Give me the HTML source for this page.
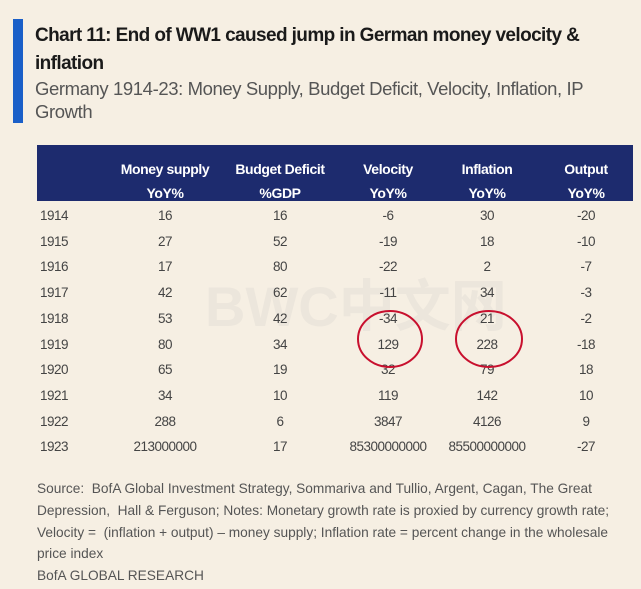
<!DOCTYPE html>
<html><head><meta charset="utf-8"><style>
body{margin:0;width:641px;height:589px;background:#f6efe3;position:relative;overflow:hidden;font-family:"Liberation Sans",sans-serif;}
.abs{position:absolute;}
#title{left:35px;top:22px;font-size:19px;font-weight:bold;color:#1a1a1a;line-height:28px;letter-spacing:-0.6px;white-space:nowrap}
#sub{left:35px;top:77px;font-size:18.5px;color:#555;line-height:23px;letter-spacing:-0.4px;white-space:nowrap}
#hdr{left:37px;top:145px;width:596px;height:56px;background:#1d2b6e;}
.h{position:absolute;color:#fff;font-weight:bold;font-size:14px;line-height:24px;text-align:center;width:130px;top:12px;letter-spacing:-0.4px}
.c{position:absolute;font-size:13.5px;color:#444;text-align:center;width:140px;letter-spacing:-0.5px}
.y{position:absolute;font-size:13.5px;color:#444;left:40px;letter-spacing:-0.5px}
#foot{left:37px;top:478px;font-size:13.7px;color:#555;line-height:21.8px;letter-spacing:0;white-space:nowrap}
</style></head><body>
<div class="abs" style="left:13px;top:19px;width:10px;height:104px;background:#1a5fc8"></div>
<div id="title" class="abs">Chart 11: End of WW1 caused jump in German money velocity &amp;<br>inflation</div>
<div id="sub" class="abs">Germany 1914-23: Money Supply, Budget Deficit, Velocity, Inflation, IP<br>Growth</div>
<div id="hdr" class="abs"></div>
<div class="abs" style="left:205px;top:262px;font-size:56px;font-weight:bold;color:rgba(180,180,180,0.15);font-family:'Liberation Sans','Noto Sans CJK SC',sans-serif">BWC中文网</div>
<div id="tbl" class="abs" style="left:0;top:0"></div>
<svg class="abs" style="left:0;top:0" width="641" height="589">
<ellipse cx="390" cy="339" rx="32" ry="28" fill="none" stroke="#c8102e" stroke-width="2"/>
<ellipse cx="489" cy="339" rx="33" ry="28" fill="none" stroke="#c8102e" stroke-width="2"/>
</svg>
<div id="foot" class="abs">Source:&nbsp; BofA Global Investment Strategy, Sommariva and Tullio, Argent, Cagan, The Great<br>Depression,&nbsp; Hall &amp; Ferguson; Notes: Monetary growth rate is proxied by currency growth rate;<br>Velocity =&nbsp; (inflation + output) – money supply; Inflation rate = percent change in the wholesale<br>price index<br>BofA GLOBAL RESEARCH</div>
<script>
const years=["1914","1915","1916","1917","1918","1919","1920","1921","1922","1923"];
const money=["16","27","17","42","53","80","65","34","288","213000000"];
const deficit=["16","52","80","62","42","34","19","10","6","17"];
const velocity=["-6","-19","-22","-11","-34","129","32","119","3847","85300000000"];
const inflation=["30","18","2","34","21","228","79","142","4126","85500000000"];
const output=["-20","-10","-7","-3","-2","-18","18","10","9","-27"];
const headers=[["Money supply","YoY%"],["Budget Deficit","%GDP"],["Velocity","YoY%"],["Inflation","YoY%"],["Output","YoY%"]];
const centers=[165,280,388,487,586];
const hdr=document.getElementById('hdr');
headers.forEach((h,i)=>{const d=document.createElement('div');d.className='h';d.style.left=(centers[i]-37-65)+'px';d.innerHTML=h[0]+'<br>'+h[1];


hdr.appendChild(d);});
const tbl=document.getElementById('tbl');
const cols=[money,deficit,velocity,inflation,output];
years.forEach((yr,r)=>{const top=208+r*25.7;
const y=document.createElement('div');y.className='y';y.style.top=top+'px';y.textContent=yr;


tbl.appendChild(y);
cols.forEach((col,i)=>{const c=document.createElement('div');c.className='c';c.style.top=top+'px';c.style.left=(centers[i]-70)+'px';c.textContent=col[r];


tbl.appendChild(c);});});
</script>
</body></html>
